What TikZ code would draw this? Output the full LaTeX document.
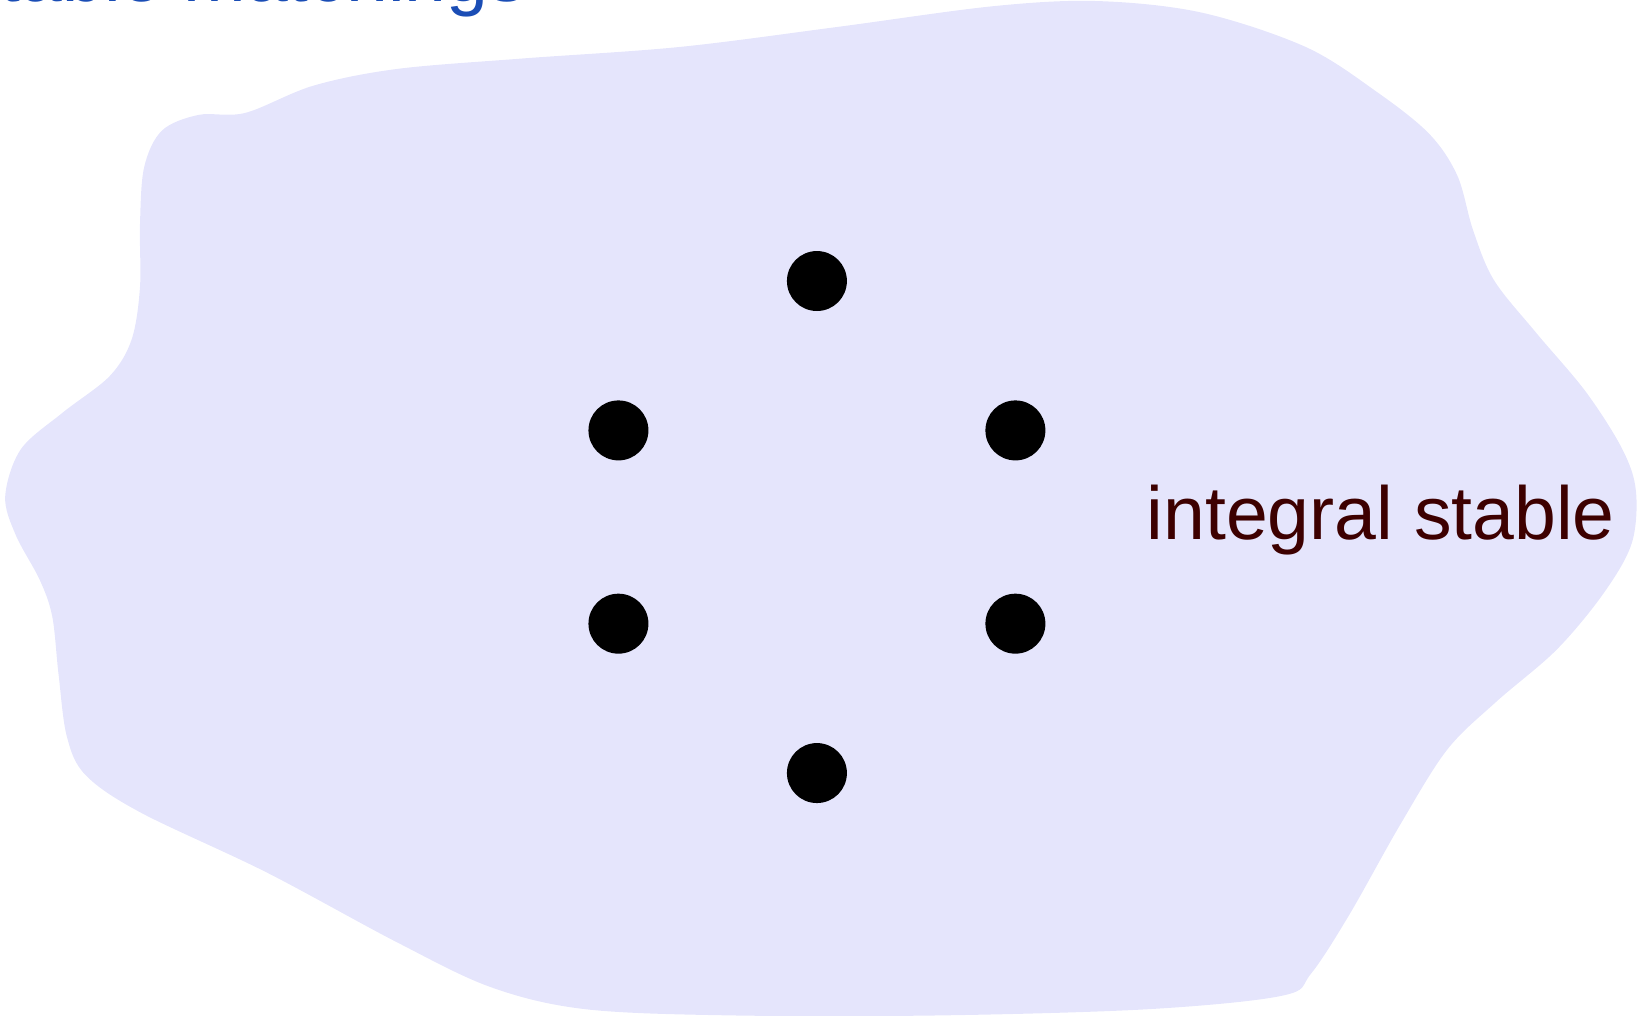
\documentclass[tikz,border=0pt]{standalone}
\usepackage{fontspec}
\setmainfont{Liberation Sans}
\begin{document}
\begin{tikzpicture}[x=0.010446cm,y=-0.010446cm,
  dot/.style={circle,fill=black,inner sep=0pt,minimum size=0.6cm},
  lbl/.style={inner sep=0pt,anchor=base west,font=\fontsize{21.4}{25}\selectfont}]
\definecolor{blobfill}{RGB}{229,229,252}
\definecolor{darkred}{RGB}{61,0,0}
\definecolor{titleblue}{RGB}{26,77,181}
\useasboundingbox (0,0) rectangle (1568,972);
\clip (0,0) rectangle (1568,972);
\fill[blobfill] plot[smooth cycle,tension=0.55] coordinates {
 (235,108) (190,110) (155,125) (138,160) (134,215) (134,275) (126,325) (105,360)
 (60,395) (20,430) (5,475) (15,512) (38,555) (50,590) (56,645) (64,705) (82,742)
 (135,778) (255,835) (380,902) (470,945) (560,966) (700,972) (900,972) (1100,966)
 (1228,953) (1255,932) (1292,875) (1340,790) (1385,718) (1432,672) (1490,622)
 (1535,568) (1562,520) (1566,470) (1553,430) (1518,375) (1470,318) (1430,268)
 (1410,220) (1395,168) (1368,128) (1318,88) (1250,45) (1150,12) (1050,1) (950,6)
 (800,26) (650,45) (500,56) (380,66) (300,82)};
\node[dot] (v1) at (782,269) {};
\node[dot] (v2) at (592,412) {};
\node[dot] (v3) at (972,412) {};
\node[dot] (v4) at (592,597) {};
\node[dot] (v5) at (972,597) {};
\node[dot] (v6) at (782,740) {};
\node[lbl,text=darkred] (integral) at (1097,516) {integral stable matchings};
\node[lbl,text=titleblue] (title) at (-37,1) {stable matchings};
\end{tikzpicture}
\end{document}
